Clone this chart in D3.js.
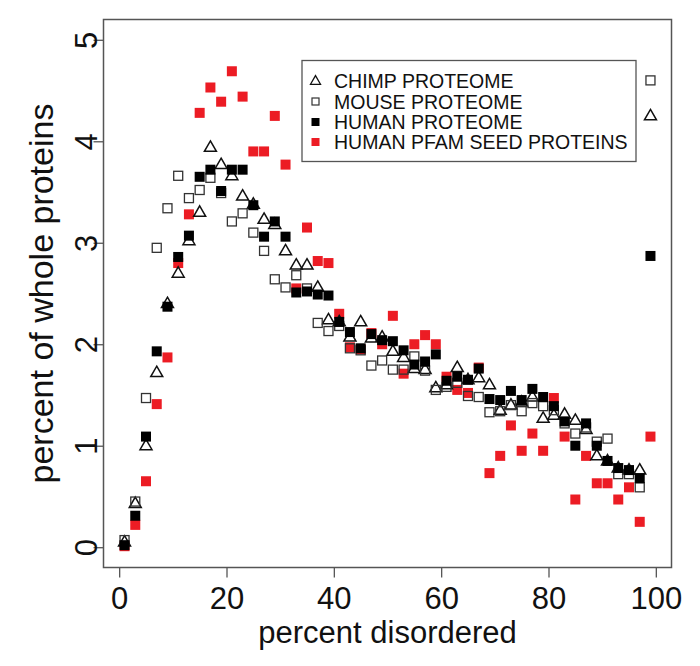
<!DOCTYPE html>
<html>
<head>
<meta charset="utf-8">
<script src="https://cdn.jsdelivr.net/npm/d3@7"></script>
<style>
  html, body { margin: 0; padding: 0; background: #fff; }
  text { font-family: "Liberation Sans", Arial, Helvetica, sans-serif; }
</style>
</head>
<body>
<svg id="chart" width="700" height="666"></svg>
<script>
// ---- data ----
const bins = [1,3,5,7,9,11,13,15,17,19,21,23,25,27,29,31,33,35,37,39,41,43,45,47,49,51,53,55,57,59,61,63,65,67,69,71,73,75,77,79,81,83,85,87,89,91,93,95,97,99];

const chimp = [0.05,0.43,1.00,1.72,2.40,2.70,3.02,3.30,3.94,3.77,
               3.66,3.46,3.38,3.23,3.18,2.92,2.78,2.78,2.56,2.24,
               2.22,2.07,2.22,2.06,2.07,1.93,1.87,1.76,1.75,1.57,
               1.60,1.77,1.65,1.67,1.60,1.35,1.40,1.43,1.48,1.27,
               1.30,1.31,1.25,1.16,0.90,0.85,0.78,0.76,0.76,4.25];

const mouse = [0.07,0.45,1.47,2.95,3.34,3.66,3.44,3.52,3.64,3.49,
               3.21,3.29,3.10,2.92,2.64,2.56,2.68,2.55,2.21,2.13,
               2.18,1.96,1.94,1.79,1.84,1.75,1.75,1.88,1.74,1.55,
               1.58,1.62,1.49,1.48,1.33,1.34,1.40,1.34,1.42,1.39,
               1.35,1.22,1.12,1.18,1.04,1.07,0.72,0.72,0.59,4.60];

const human = [0.02,0.31,1.09,1.93,2.37,2.86,3.07,3.65,3.72,3.51,
               3.72,3.72,3.37,3.06,3.21,3.06,2.51,2.52,2.49,2.48,
               2.22,2.12,1.96,2.10,2.04,2.03,1.94,1.80,1.83,1.90,
               1.64,1.68,1.65,1.76,1.46,1.45,1.54,1.45,1.56,1.48,
               1.39,1.24,1.00,1.22,1.00,0.85,0.78,0.76,0.68,2.87];

const pfam  = [0.01,0.22,0.65,1.41,1.87,2.80,3.28,4.28,4.53,4.39,
               4.69,4.44,3.90,3.90,4.25,3.77,2.55,3.15,2.82,2.80,
               2.30,1.97,1.95,2.11,2.00,2.28,1.71,2.00,2.09,2.00,
               1.68,1.55,1.52,1.77,0.73,0.90,1.20,0.95,1.12,0.95,
               1.47,1.09,0.47,0.90,0.63,0.63,0.47,0.59,0.25,1.09];

const xTicks = [0,20,40,60,80,100];
const yTicks = [0,1,2,3,4,5];
const legendLabels = ["CHIMP PROTEOME","MOUSE PROTEOME","HUMAN PROTEOME","HUMAN PFAM SEED PROTEINS"];
const xTitle = "percent disordered";
const yTitle = "percent of whole proteins";

// ---- layout ----
const svg = d3.select("#chart");
const box = {left: 103.5, right: 671.5, top: 19.5, bottom: 567.5};
const RED = "#ec1c24";
const BOXC = "#555";

const x = d3.scaleLinear().domain([-2.92, 102.92]).range([box.left, box.right]);
const y = d3.scaleLinear().domain([-0.2, 5.2]).range([box.bottom, box.top]);

svg.append("rect").attr("width",700).attr("height",666).attr("fill","#fff");

// plot box
svg.append("rect")
  .attr("x", box.left).attr("y", box.top)
  .attr("width", box.right-box.left).attr("height", box.bottom-box.top)
  .attr("fill","none").attr("stroke",BOXC).attr("stroke-width",1.5);

// x axis
const xAxis = d3.axisBottom(x).tickValues(xTicks).tickFormat(d3.format("d")).tickSize(10);
const gx = svg.append("g").attr("transform",`translate(0,${box.bottom})`).call(xAxis);
gx.select(".domain").remove();
gx.selectAll(".tick line").attr("stroke",BOXC).attr("stroke-width",1.3);
gx.selectAll(".tick text").attr("font-size",31).attr("fill","#111")
  .attr("font-family",'"Liberation Sans", Arial, sans-serif')
  .attr("dy",null).attr("y",null)
  .attr("transform","translate(0,41)");

// y axis
const yAxis = d3.axisLeft(y).tickValues(yTicks).tickFormat(d3.format("d")).tickSize(10);
const gy = svg.append("g").attr("transform",`translate(${box.left},0)`).call(yAxis);
gy.select(".domain").remove();
gy.selectAll(".tick line").attr("stroke",BOXC).attr("stroke-width",1.3);
gy.selectAll(".tick text").attr("font-size",31).attr("fill","#111")
  .attr("font-family",'"Liberation Sans", Arial, sans-serif')
  .attr("x",null).attr("dy",null)
  .attr("text-anchor","middle")
  .attr("transform","translate(-7,0) rotate(-90)");

// titles
svg.append("text").attr("x",(box.left+box.right)/2).attr("y",643)
  .attr("text-anchor","middle").attr("font-size",31).attr("fill","#111").text(xTitle);
svg.append("text")
  .attr("transform",`translate(53,${(box.top+box.bottom)/2}) rotate(-90)`)
  .attr("text-anchor","middle").attr("font-size",34).attr("fill","#111").text(yTitle);

// ---- markers ----
const S = 10;       // square size
const triPath = (cx, cy, w) => {
  const h = w*0.866;
  return `M${cx},${cy-h*0.62}L${cx+w/2},${cy+h*0.38}L${cx-w/2},${cy+h*0.38}Z`;
};

function seriesData(vals){ return bins.map((b,i)=>({x:b, v:vals[i]})); }

// red first (underneath)
svg.append("g").selectAll("rect").data(seriesData(pfam)).join("rect")
  .attr("x",d=>x(d.x)-S/2).attr("y",d=>y(d.v)-S/2)
  .attr("width",S).attr("height",S).attr("fill",RED);

svg.append("g").selectAll("path").data(seriesData(chimp)).join("path")
  .attr("d",d=>triPath(x(d.x), y(d.v), 12))
  .attr("fill","none").attr("stroke","#111").attr("stroke-width",1.5);

svg.append("g").selectAll("rect").data(seriesData(mouse)).join("rect")
  .attr("x",d=>x(d.x)-4.5).attr("y",d=>y(d.v)-4.5)
  .attr("width",9).attr("height",9).attr("fill","none")
  .attr("stroke","#333").attr("stroke-width",1.3);

svg.append("g").selectAll("rect").data(seriesData(human)).join("rect")
  .attr("x",d=>x(d.x)-S/2).attr("y",d=>y(d.v)-S/2)
  .attr("width",S).attr("height",S).attr("fill","#000");

// ---- legend ----
const lg = svg.append("g");
lg.append("rect").attr("x",302).attr("y",60.5).attr("width",334).attr("height",101)
  .attr("fill","#fff").attr("stroke",BOXC).attr("stroke-width",1.3);
const rowsY = [81,101.5,122,142];
legendLabels.forEach((lab,i)=>{
  const cy = rowsY[i], cx = 315.5;
  if(i===0){
    lg.append("path").attr("d",triPath(cx,cy,10)).attr("fill","none").attr("stroke","#111").attr("stroke-width",1.3);
  } else if(i===1){
    lg.append("rect").attr("x",cx-3.5).attr("y",cy-3.5).attr("width",7).attr("height",7)
      .attr("fill","none").attr("stroke","#333").attr("stroke-width",1.2);
  } else {
    lg.append("rect").attr("x",cx-4).attr("y",cy-4).attr("width",8).attr("height",8)
      .attr("fill", i===2 ? "#000" : RED);
  }
  lg.append("text").attr("x",334).attr("y",cy+7).attr("font-size",19.5).attr("fill","#111").text(lab);
});
</script>
</body>
</html>
